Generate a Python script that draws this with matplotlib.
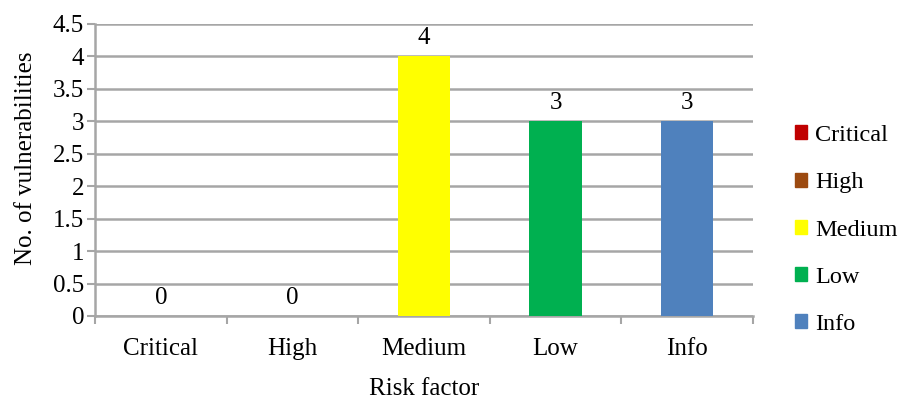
import numpy as np
import matplotlib.pyplot as plt

plt.rcParams['font.family'] = ['Liberation Serif', 'DejaVu Serif']

categories = ['Critical', 'High', 'Medium', 'Low', 'Info']
counts = [0, 0, 4, 3, 3]
colors = ['#C00000', '#9C4A10', '#FFFF00', '#00B050', '#4F81BD']
yticks = [0, 0.5, 1, 1.5, 2, 2.5, 3, 3.5, 4, 4.5]

fig = plt.figure(figsize=(9.06, 4.0), dpi=100)
ax = fig.add_axes([0.105, 0.21, 0.726, 0.73])

x = np.arange(len(categories))
bars = ax.bar(x, counts, width=0.4, color=colors, zorder=3)
for xi, v in zip(x, counts):
    ax.annotate(str(v), (xi, v), xytext=(0, 5), textcoords='offset points',
                ha='center', va='bottom', fontsize=18, zorder=4)

ax.set_xlim(-0.5, len(categories) - 0.5)
ax.set_ylim(0, 4.5)
ax.set_yticks(yticks)
ax.set_yticklabels([f'{t:g}' for t in yticks], fontsize=18)
ax.set_xticks(x)
ax.set_xticklabels(categories, fontsize=18)
ax.set_xticks(np.arange(-0.5, len(categories)), minor=True)
ax.tick_params(axis='x', which='major', length=0, pad=16)
ax.tick_params(axis='x', which='minor', length=6, width=1.5, color='#a6a6a6')
ax.tick_params(axis='y', length=6, width=1.5, color='#a6a6a6', pad=2)

ax.grid(axis='y', color='#a6a6a6', linewidth=1.8, zorder=0)
for s in ['top', 'right']:
    ax.spines[s].set_visible(False)
ax.spines['left'].set_color('#a6a6a6')
ax.spines['left'].set_linewidth(1.8)
ax.spines['bottom'].set_color('#a6a6a6')
ax.spines['bottom'].set_linewidth(1.8)

ax.set_xlabel('Risk factor', fontsize=18, labelpad=13)
ax.set_ylabel('No. of vulnerabilities', fontsize=18)
ax.yaxis.set_label_coords(-0.089, 0.541)

handles = [plt.Rectangle((0, 0), 1, 1, color=c) for c in colors]
fig.legend(handles, categories, loc='center left', bbox_to_anchor=(0.853, 0.425),
           frameon=False, fontsize=17.5, handlelength=0.5, handleheight=0.5,
           handletextpad=0.35, labelspacing=1.08)

fig.savefig('out.png', dpi=100)
